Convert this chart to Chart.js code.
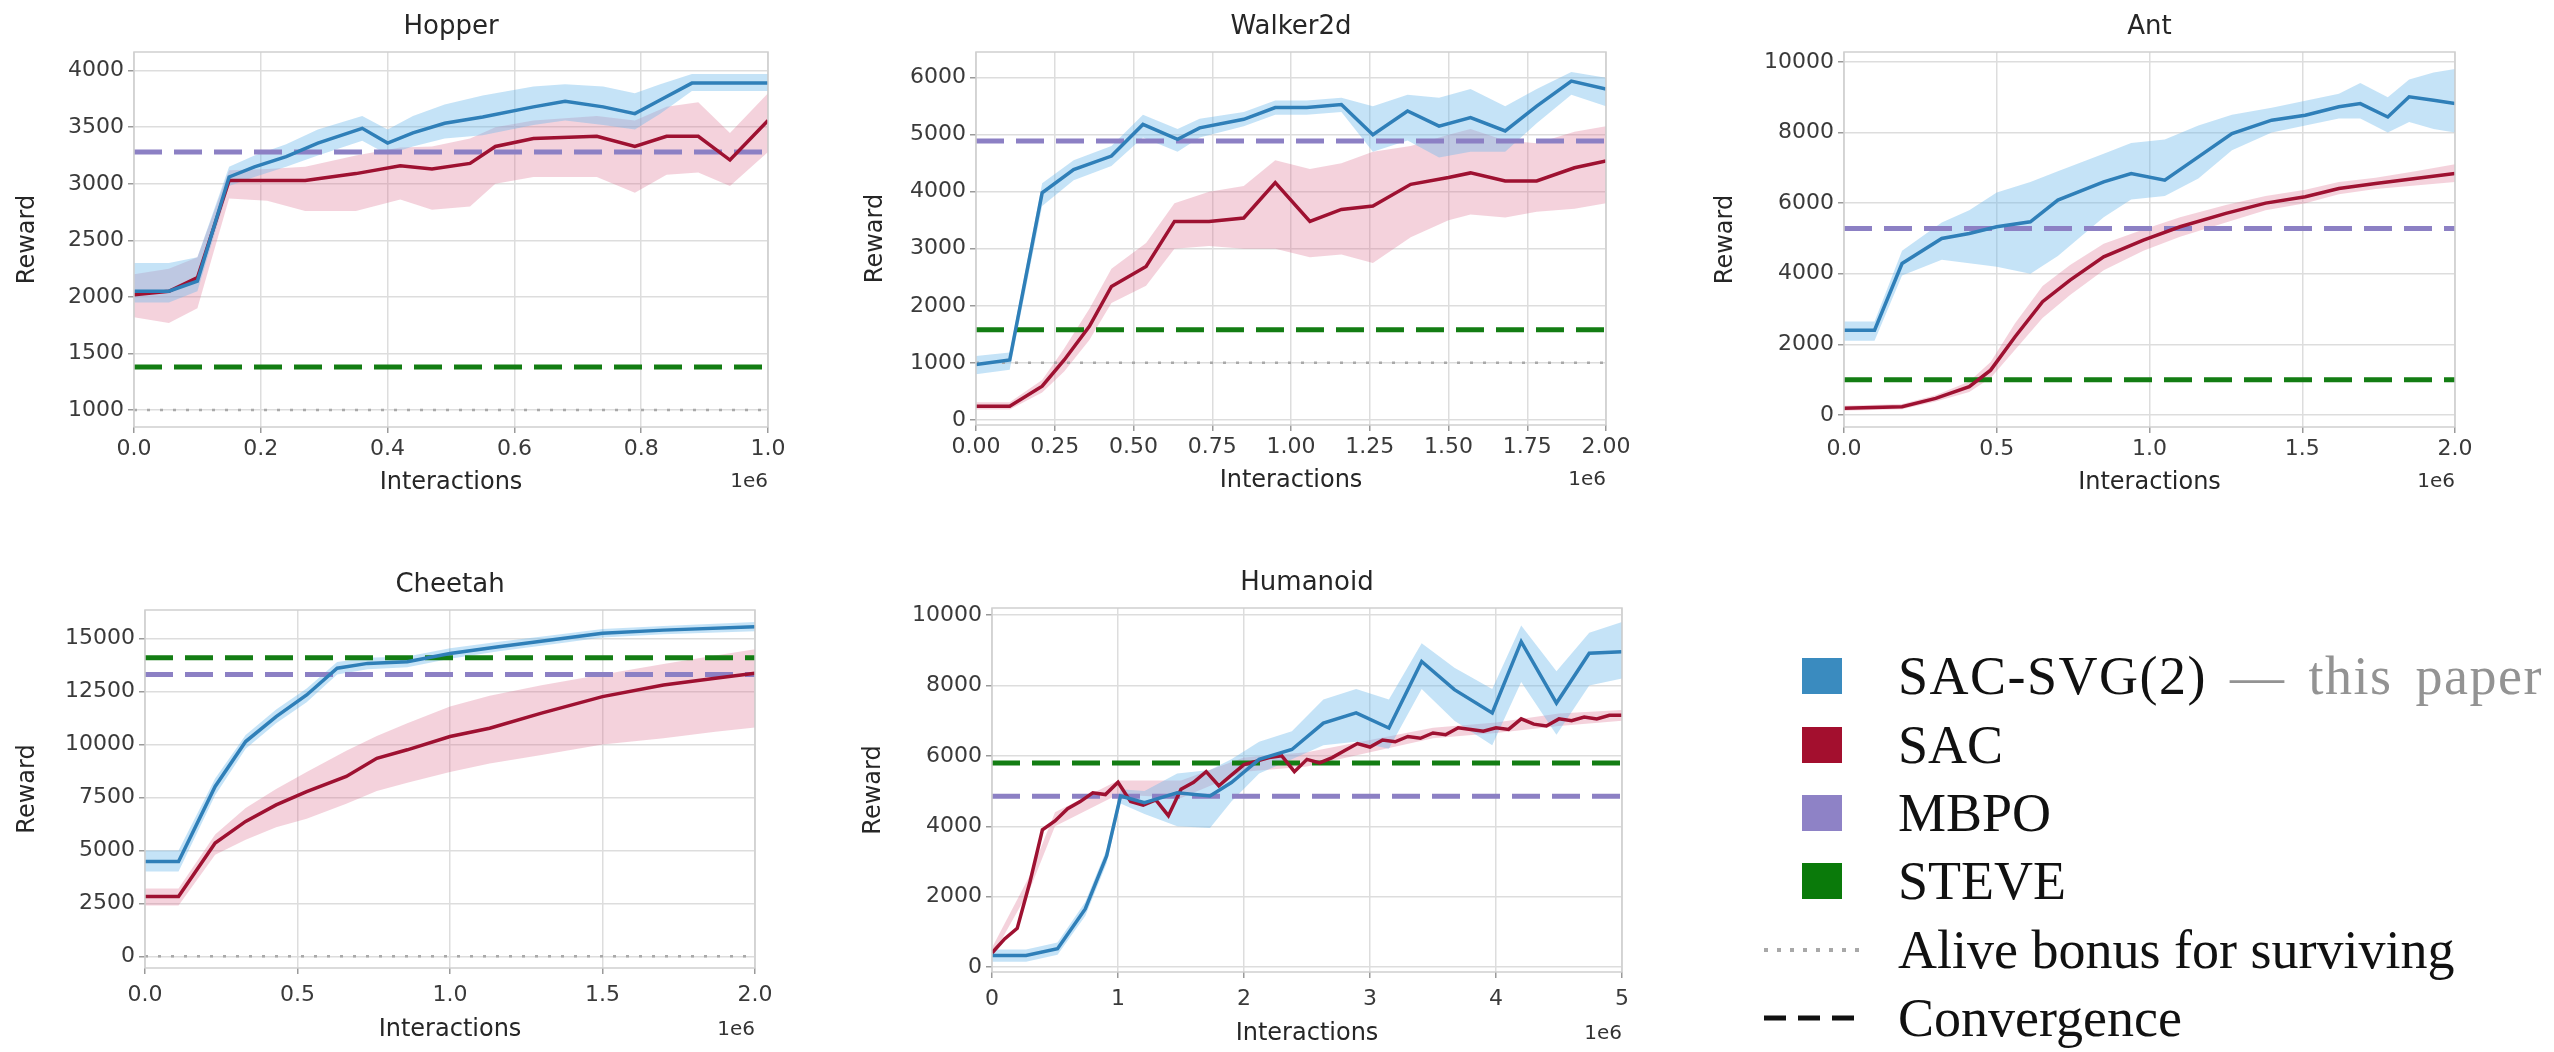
<!DOCTYPE html>
<html>
<head>
<meta charset="utf-8">
<script src="https://cdn.jsdelivr.net/npm/chart.js@4/dist/chart.umd.min.js"></script>
<style>
  html, body { margin: 0; padding: 0; background: #ffffff; }
  body { width: 2554px; height: 1052px; position: relative; overflow: hidden; font-family: 'DejaVu Sans', sans-serif; }
  canvas { position: absolute; }
  .ptitle { position: absolute; font-size: 26px; color: #262626; transform: translate(-50%, -50%); white-space: nowrap; }
  .offset { position: absolute; font-size: 20px; color: #333; transform: translate(-100%, -50%); white-space: nowrap; }
  .legend { position: absolute; left: 0; top: 0; font-family: 'Liberation Serif', 'DejaVu Serif', serif; color: #111; }
  .lrow { position: absolute; left: 1760px; height: 60px; display: flex; align-items: center; white-space: nowrap; font-size: 54px; line-height: 1; }
  .lglyph { width: 138px; display: flex; align-items: center; }
  .sq { width: 40px; height: 36px; margin-left: 42px; }
  .gray { color: #939393; }
  .wide { letter-spacing: 1.5px; word-spacing: 8px; }
</style>
</head>
<body>
<script>
// ---------------- DATA ----------------
const envNames = ['Hopper', 'Walker2d', 'Ant', 'Cheetah', 'Humanoid'];

// horizontal reference levels (per environment, in envNames order)
const mbpoLevel  = [3280, 4890, 5280, 13300, 4850];
const steveLevel = [1380, 1580, 1000, 14100, 5800];
const aliveLevel = [1000, 1000, null, 0, null];

// tick values / labels
const xTickVals = [
  [0, 0.2, 0.4, 0.6, 0.8, 1.0],
  [0, 0.25, 0.5, 0.75, 1.0, 1.25, 1.5, 1.75, 2.0],
  [0, 0.5, 1.0, 1.5, 2.0],
  [0, 0.5, 1.0, 1.5, 2.0],
  [0, 1, 2, 3, 4, 5]
];
const xTickLabels = [
  ['0.0', '0.2', '0.4', '0.6', '0.8', '1.0'],
  ['0.00', '0.25', '0.50', '0.75', '1.00', '1.25', '1.50', '1.75', '2.00'],
  ['0.0', '0.5', '1.0', '1.5', '2.0'],
  ['0.0', '0.5', '1.0', '1.5', '2.0'],
  ['0', '1', '2', '3', '4', '5']
];
const yTickVals = [
  [1000, 1500, 2000, 2500, 3000, 3500, 4000],
  [0, 1000, 2000, 3000, 4000, 5000, 6000],
  [0, 2000, 4000, 6000, 8000, 10000],
  [0, 2500, 5000, 7500, 10000, 12500, 15000],
  [0, 2000, 4000, 6000, 8000, 10000]
];
const yRanges = [[850, 4165], [-90, 6450], [-340, 10280], [-550, 16350], [-140, 10200]];

// Hopper
const hopperSvgX  = [0, 0.055, 0.1, 0.15, 0.19, 0.24, 0.29, 0.36, 0.4, 0.44, 0.49, 0.55, 0.63, 0.68, 0.74, 0.79, 0.83, 0.88, 1.0];
const hopperSvg   = [2050, 2050, 2140, 3060, 3150, 3240, 3360, 3490, 3360, 3450, 3535, 3590, 3680, 3730, 3680, 3620, 3740, 3890, 3890];
const hopperSvgLo = [1950, 1950, 2050, 2980, 3060, 3150, 3250, 3380, 3260, 3330, 3400, 3430, 3520, 3560, 3520, 3480, 3620, 3820, 3820];
const hopperSvgHi = [2300, 2300, 2350, 3150, 3250, 3350, 3480, 3600, 3480, 3600, 3700, 3780, 3860, 3880, 3860, 3800, 3880, 3970, 3970];
const hopperSacX  = [0, 0.055, 0.1, 0.15, 0.21, 0.27, 0.35, 0.42, 0.47, 0.53, 0.57, 0.63, 0.73, 0.79, 0.84, 0.89, 0.94, 1.0];
const hopperSac   = [2020, 2050, 2170, 3030, 3030, 3030, 3090, 3160, 3130, 3180, 3330, 3400, 3420, 3330, 3420, 3420, 3210, 3560];
const hopperSacLo = [1820, 1770, 1900, 2870, 2850, 2760, 2760, 2860, 2770, 2800, 3000, 3060, 3060, 2920, 3080, 3100, 2980, 3280];
const hopperSacHi = [2200, 2250, 2350, 3120, 3130, 3150, 3250, 3320, 3330, 3400, 3500, 3560, 3600, 3560, 3680, 3720, 3450, 3800];

// Walker2d
const walkerSvgX  = [0, 0.107, 0.21, 0.31, 0.43, 0.53, 0.64, 0.71, 0.85, 0.95, 1.05, 1.16, 1.26, 1.37, 1.47, 1.57, 1.68, 1.78, 1.89, 2.0];
const walkerSvg   = [970, 1050, 3980, 4390, 4625, 5180, 4920, 5120, 5270, 5475, 5475, 5530, 5000, 5415, 5150, 5300, 5065, 5500, 5940, 5800];
const walkerSvgLo = [800, 880, 3750, 4200, 4450, 4950, 4700, 4950, 5150, 5350, 5350, 5400, 4700, 4900, 4600, 4700, 4700, 5200, 5700, 5500];
const walkerSvgHi = [1120, 1180, 4150, 4550, 4800, 5350, 5100, 5280, 5400, 5600, 5600, 5650, 5500, 5700, 5650, 5800, 5500, 5800, 6100, 6000];
const walkerSacX  = [0, 0.107, 0.21, 0.28, 0.36, 0.43, 0.54, 0.63, 0.74, 0.85, 0.95, 1.06, 1.16, 1.26, 1.38, 1.5, 1.57, 1.68, 1.78, 1.9, 2.0];
const walkerSac   = [240, 240, 590, 1050, 1640, 2340, 2690, 3480, 3480, 3540, 4160, 3480, 3690, 3750, 4130, 4250, 4330, 4190, 4190, 4420, 4540];
const walkerSacLo = [180, 180, 480, 850, 1400, 2050, 2350, 3000, 3050, 3000, 3000, 2850, 2900, 2750, 3200, 3500, 3600, 3550, 3650, 3700, 3800];
const walkerSacHi = [310, 310, 700, 1250, 1950, 2650, 3100, 3800, 4000, 4100, 4550, 4400, 4500, 4700, 4800, 5000, 5100, 4900, 4850, 5050, 5150];

// Ant
const antSvgX  = [0, 0.1, 0.19, 0.32, 0.41, 0.5, 0.61, 0.70, 0.85, 0.94, 1.05, 1.16, 1.27, 1.40, 1.51, 1.62, 1.69, 1.78, 1.85, 1.93, 2.0];
const antSvg   = [2400, 2400, 4290, 5000, 5140, 5330, 5470, 6085, 6600, 6840, 6650, 7310, 7970, 8350, 8490, 8730, 8820, 8440, 9010, 8915, 8820];
const antSvgLo = [2100, 2100, 3950, 4400, 4300, 4200, 4000, 4500, 5600, 6100, 6200, 6700, 7500, 8000, 8200, 8400, 8400, 8000, 8300, 8100, 8000];
const antSvgHi = [2650, 2650, 4650, 5450, 5800, 6300, 6600, 6900, 7400, 7700, 7800, 8200, 8500, 8700, 8900, 9100, 9400, 9000, 9500, 9700, 9800];
const antSacX  = [0, 0.19, 0.3, 0.41, 0.48, 0.56, 0.65, 0.74, 0.85, 0.98, 1.1, 1.25, 1.38, 1.51, 1.62, 1.74, 1.87, 2.0];
const antSac   = [190, 235, 470, 800, 1270, 2215, 3210, 3820, 4480, 4950, 5330, 5710, 6000, 6180, 6415, 6555, 6700, 6840];
const antSacLo = [120, 160, 380, 650, 1050, 1850, 2750, 3400, 4100, 4650, 5050, 5450, 5800, 6000, 6250, 6400, 6500, 6600];
const antSacHi = [260, 310, 560, 950, 1500, 2600, 3650, 4250, 4850, 5250, 5600, 5950, 6200, 6380, 6600, 6720, 6900, 7100];

// Cheetah
const cheetahSvgX  = [0, 0.11, 0.23, 0.33, 0.43, 0.53, 0.63, 0.73, 0.86, 1.0, 1.16, 1.33, 1.5, 1.7, 2.0];
const cheetahSvg   = [4480, 4480, 8020, 10140, 11320, 12340, 13600, 13830, 13910, 14300, 14620, 14930, 15250, 15400, 15560];
const cheetahSvgLo = [4000, 4000, 7600, 9800, 11000, 12000, 13300, 13550, 13650, 14050, 14400, 14720, 15050, 15200, 15350];
const cheetahSvgHi = [5000, 5000, 8400, 10450, 11650, 12650, 13900, 14100, 14150, 14550, 14850, 15150, 15450, 15600, 15780];
const cheetahSacX  = [0, 0.11, 0.23, 0.33, 0.43, 0.53, 0.66, 0.76, 0.86, 1.0, 1.13, 1.3, 1.5, 1.7, 1.87, 2.0];
const cheetahSac   = [2830, 2830, 5350, 6370, 7150, 7780, 8490, 9350, 9750, 10380, 10770, 11480, 12260, 12810, 13130, 13360];
const cheetahSacLo = [2400, 2400, 4800, 5500, 6100, 6500, 7200, 7800, 8200, 8700, 9100, 9500, 10000, 10300, 10600, 10800];
const cheetahSacHi = [3200, 3200, 5750, 7000, 7900, 8700, 9700, 10400, 11000, 11800, 12300, 12800, 13300, 13800, 14200, 14500];

// Humanoid
const humanoidSvgX  = [0, 0.27, 0.52, 0.74, 0.91, 1.02, 1.21, 1.47, 1.73, 1.90, 2.12, 2.38, 2.63, 2.89, 3.15, 3.41, 3.67, 3.97, 4.20, 4.48, 4.74, 5.0];
const humanoidSvg   = [330, 330, 520, 1650, 3160, 4860, 4670, 4950, 4860, 5240, 5900, 6180, 6930, 7220, 6790, 8680, 7880, 7220, 9245, 7500, 8915, 8960];
const humanoidSvgLo = [150, 150, 350, 1450, 2950, 4650, 4350, 4000, 3950, 4700, 5500, 5900, 6300, 6400, 6200, 7900, 7000, 6300, 8100, 6600, 8000, 8200];
const humanoidSvgHi = [500, 500, 700, 1850, 3350, 5050, 5000, 5500, 5600, 5900, 6400, 6700, 7600, 7900, 7600, 9200, 8500, 7900, 9700, 8400, 9500, 9800];
const humanoidSacX  = [0, 0.1, 0.2, 0.3, 0.4, 0.5, 0.6, 0.7, 0.8, 0.9, 1.0, 1.1, 1.2, 1.3, 1.4, 1.5, 1.6, 1.7, 1.8, 1.9,
                       2.0, 2.1, 2.2, 2.3, 2.4, 2.5, 2.6, 2.7, 2.8, 2.9, 3.0, 3.1, 3.2, 3.3, 3.4, 3.5, 3.6, 3.7, 3.8, 3.9,
                       4.0, 4.1, 4.2, 4.3, 4.4, 4.5, 4.6, 4.7, 4.8, 4.9, 5.0];
const humanoidSac   = [400, 800, 1100, 2400, 3900, 4150, 4500, 4700, 4950, 4900, 5250, 4700, 4600, 4750, 4300, 5050, 5250, 5550, 5150, 5450,
                       5750, 5850, 5950, 6000, 5550, 5900, 5800, 5950, 6150, 6350, 6250, 6450, 6400, 6550, 6500, 6650, 6600, 6800, 6750, 6700,
                       6800, 6750, 7050, 6900, 6850, 7050, 7000, 7100, 7050, 7150, 7150];
const humanoidSacBandX = [0, 0.3, 0.5, 1, 1.5, 2, 2.5, 3, 3.5, 4, 4.5, 5];
const humanoidSacLo = [300, 2200, 4000, 4900, 4800, 5550, 5700, 6100, 6500, 6650, 6850, 7000];
const humanoidSacHi = [550, 2600, 4400, 5300, 5300, 5950, 6100, 6450, 6800, 6950, 7200, 7300];

// ---------------- STYLE / LAYOUT ----------------
const COL_SVG = '#2f7fb8';
const COL_SAC = '#9e1131';
const COL_MBPO = '#8c80c4';
const COL_STEVE = '#137d13';
const COL_ALIVE = '#a9a9a9';
const BAND_SVG = 'rgba(110, 185, 235, 0.40)';
const BAND_SAC = 'rgba(220, 105, 140, 0.30)';

const panels = [
  { L: 134, T: 52, R: 768, B: 427, yTitleOff: 106, xLabPad: 3, xTitlePad: 6 },
  { L: 976, T: 52, R: 1606, B: 425, yTitleOff: 100, xLabPad: 3, xTitlePad: 6 },
  { L: 1844, T: 52, R: 2455, B: 427, yTitleOff: 118, xLabPad: 3, xTitlePad: 6 },
  { L: 145, T: 610, R: 755, B: 968, yTitleOff: 117, xLabPad: 8, xTitlePad: 0 },
  { L: 992, T: 608, R: 1622, B: 972, yTitleOff: 118, xLabPad: 8, xTitlePad: 0 }
];

const seriesData = [
  { svg: [hopperSvgX, hopperSvg], svgBand: [hopperSvgX, hopperSvgLo, hopperSvgHi], sac: [hopperSacX, hopperSac], sacBand: [hopperSacX, hopperSacLo, hopperSacHi] },
  { svg: [walkerSvgX, walkerSvg], svgBand: [walkerSvgX, walkerSvgLo, walkerSvgHi], sac: [walkerSacX, walkerSac], sacBand: [walkerSacX, walkerSacLo, walkerSacHi] },
  { svg: [antSvgX, antSvg], svgBand: [antSvgX, antSvgLo, antSvgHi], sac: [antSacX, antSac], sacBand: [antSacX, antSacLo, antSacHi] },
  { svg: [cheetahSvgX, cheetahSvg], svgBand: [cheetahSvgX, cheetahSvgLo, cheetahSvgHi], sac: [cheetahSacX, cheetahSac], sacBand: [cheetahSacX, cheetahSacLo, cheetahSacHi] },
  { svg: [humanoidSvgX, humanoidSvg], svgBand: [humanoidSvgX, humanoidSvgLo, humanoidSvgHi], sac: [humanoidSacX, humanoidSac], sacBand: [humanoidSacBandX, humanoidSacLo, humanoidSacHi] }
];

Chart.defaults.font.family = "'DejaVu Sans', sans-serif";

const zip = (xs, ys) => xs.map((x, i) => ({ x: x, y: ys[i] }));

const framePlugin = {
  id: 'frame',
  afterDatasetsDraw(chart) {
    const a = chart.chartArea, ctx = chart.ctx;
    ctx.save();
    ctx.strokeStyle = '#cfcfcf';
    ctx.lineWidth = 1.5;
    ctx.strokeRect(a.left, a.top, a.right - a.left, a.bottom - a.top);
    ctx.restore();
  }
};

function lineDs(pts, color, width, dash) {
  return { data: pts, borderColor: color, borderWidth: width, borderDash: dash || [], pointRadius: 0, tension: 0, fill: false, backgroundColor: 'transparent' };
}

function makePanel(i) {
  const p = panels[i], d = seriesData[i];
  const yAxisW = 140, padTop = 20, padRight = 40, xAxisH = 76;
  const W = (p.R - p.L) + yAxisW + padRight;
  const H = (p.B - p.T) + padTop + xAxisH;
  const cv = document.createElement('canvas');
  cv.width = W; cv.height = H;
  cv.style.left = (p.L - yAxisW) + 'px';
  cv.style.top = (p.T - padTop) + 'px';
  cv.style.width = W + 'px';
  cv.style.height = H + 'px';
  document.body.appendChild(cv);

  const xt = xTickVals[i];
  const xmin = xt[0], xmax = xt[xt.length - 1];
  const datasets = [];
  datasets.push(lineDs(zip(d.svg[0], d.svg[1]), COL_SVG, 3.5));      // 0
  datasets.push(lineDs(zip(d.sac[0], d.sac[1]), COL_SAC, 3.5));      // 1
  datasets.push(lineDs(zip([xmin, xmax], [mbpoLevel[i], mbpoLevel[i]]), COL_MBPO, 5, [28, 12]));   // 2
  datasets.push(lineDs(zip([xmin, xmax], [steveLevel[i], steveLevel[i]]), COL_STEVE, 5, [28, 12])); // 3
  if (aliveLevel[i] !== null) {
    datasets.push(lineDs(zip([xmin, xmax], [aliveLevel[i], aliveLevel[i]]), COL_ALIVE, 2.5, [3, 10]));
  }
  const svgHiIdx = datasets.length;
  datasets.push({ data: zip(d.svgBand[0], d.svgBand[2]), borderWidth: 0, pointRadius: 0, tension: 0, backgroundColor: BAND_SVG, fill: { target: svgHiIdx + 1 } });
  datasets.push({ data: zip(d.svgBand[0], d.svgBand[1]), borderWidth: 0, pointRadius: 0, tension: 0, backgroundColor: 'transparent', fill: false });
  const sacHiIdx = datasets.length;
  datasets.push({ data: zip(d.sacBand[0], d.sacBand[2]), borderWidth: 0, pointRadius: 0, tension: 0, backgroundColor: BAND_SAC, fill: { target: sacHiIdx + 1 } });
  datasets.push({ data: zip(d.sacBand[0], d.sacBand[1]), borderWidth: 0, pointRadius: 0, tension: 0, backgroundColor: 'transparent', fill: false });

  new Chart(cv, {
    type: 'line',
    data: { datasets: datasets },
    plugins: [framePlugin],
    options: {
      responsive: false,
      animation: false,
      devicePixelRatio: 1,
      layout: { padding: { top: padTop, right: padRight, left: 0, bottom: 0 } },
      plugins: { legend: { display: false }, tooltip: { enabled: false }, title: { display: false } },
      scales: {
        x: {
          type: 'linear',
          min: xmin, max: xmax,
          afterBuildTicks: (ax) => { ax.ticks = xTickVals[i].map(v => ({ value: v })); },
          afterFit: (ax) => { ax.height = xAxisH; },
          ticks: {
            callback: (v, idx) => xTickLabels[i][idx],
            font: { size: 22 }, color: '#3a3a3a', padding: p.xLabPad, maxRotation: 0, autoSkip: false
          },
          grid: { color: '#dddddd', lineWidth: 1.5, tickLength: 6, tickColor: '#9a9a9a', tickWidth: 1.5 },
          border: { display: false },
          title: { display: true, text: 'Interactions', font: { size: 24 }, color: '#262626', padding: { top: 0, bottom: p.xTitlePad } }
        },
        y: {
          type: 'linear',
          min: yRanges[i][0], max: yRanges[i][1],
          afterBuildTicks: (ax) => { ax.ticks = yTickVals[i].map(v => ({ value: v })); },
          afterFit: (ax) => { ax.width = yAxisW; },
          ticks: {
            callback: (v) => String(v),
            font: { size: 22 }, color: '#3a3a3a', padding: 4, autoSkip: false
          },
          grid: { color: '#dddddd', lineWidth: 1.5, tickLength: 6, tickColor: '#9a9a9a', tickWidth: 1.5 },
          border: { display: false },
          title: { display: true, text: 'Reward', font: { size: 24 }, color: '#262626', padding: { top: yAxisW - p.yTitleOff - 14.4, bottom: 0 } }
        }
      }
    }
  });

  const t = document.createElement('div');
  t.className = 'ptitle';
  t.textContent = envNames[i];
  t.style.left = ((p.L + p.R) / 2) + 'px';
  t.style.top = (p.T - 27) + 'px';
  document.body.appendChild(t);

  const o = document.createElement('div');
  o.className = 'offset';
  o.textContent = '1e6';
  o.style.left = p.R + 'px';
  o.style.top = (p.B + (i >= 3 ? 60 : 53)) + 'px';
  document.body.appendChild(o);
}

for (let i = 0; i < envNames.length; i++) makePanel(i);
</script>

<div class="legend">
  <div class="lrow" style="top:646px;"><div class="lglyph"><div class="sq" style="background:#3a8bbf"></div></div><span class="wide">SAC-SVG(2)<span class="gray"> — this paper</span></span></div>
  <div class="lrow" style="top:715px;"><div class="lglyph"><div class="sq" style="background:#a30f2e"></div></div><span>SAC</span></div>
  <div class="lrow" style="top:783px;"><div class="lglyph"><div class="sq" style="background:#8e82c6"></div></div><span>MBPO</span></div>
  <div class="lrow" style="top:851px;"><div class="lglyph"><div class="sq" style="background:#0a7a0a"></div></div><span>STEVE</span></div>
  <div class="lrow" style="top:920px;"><div class="lglyph"><svg width="100" height="10"><line x1="4" y1="5" x2="100" y2="5" stroke="#a8a8a8" stroke-width="4" stroke-dasharray="4 9"/></svg></div><span>Alive bonus for surviving</span></div>
  <div class="lrow" style="top:988px;"><div class="lglyph"><svg width="100" height="10"><line x1="4" y1="5" x2="100" y2="5" stroke="#111" stroke-width="5" stroke-dasharray="22 12"/></svg></div><span>Convergence</span></div>
</div>
</body>
</html>
